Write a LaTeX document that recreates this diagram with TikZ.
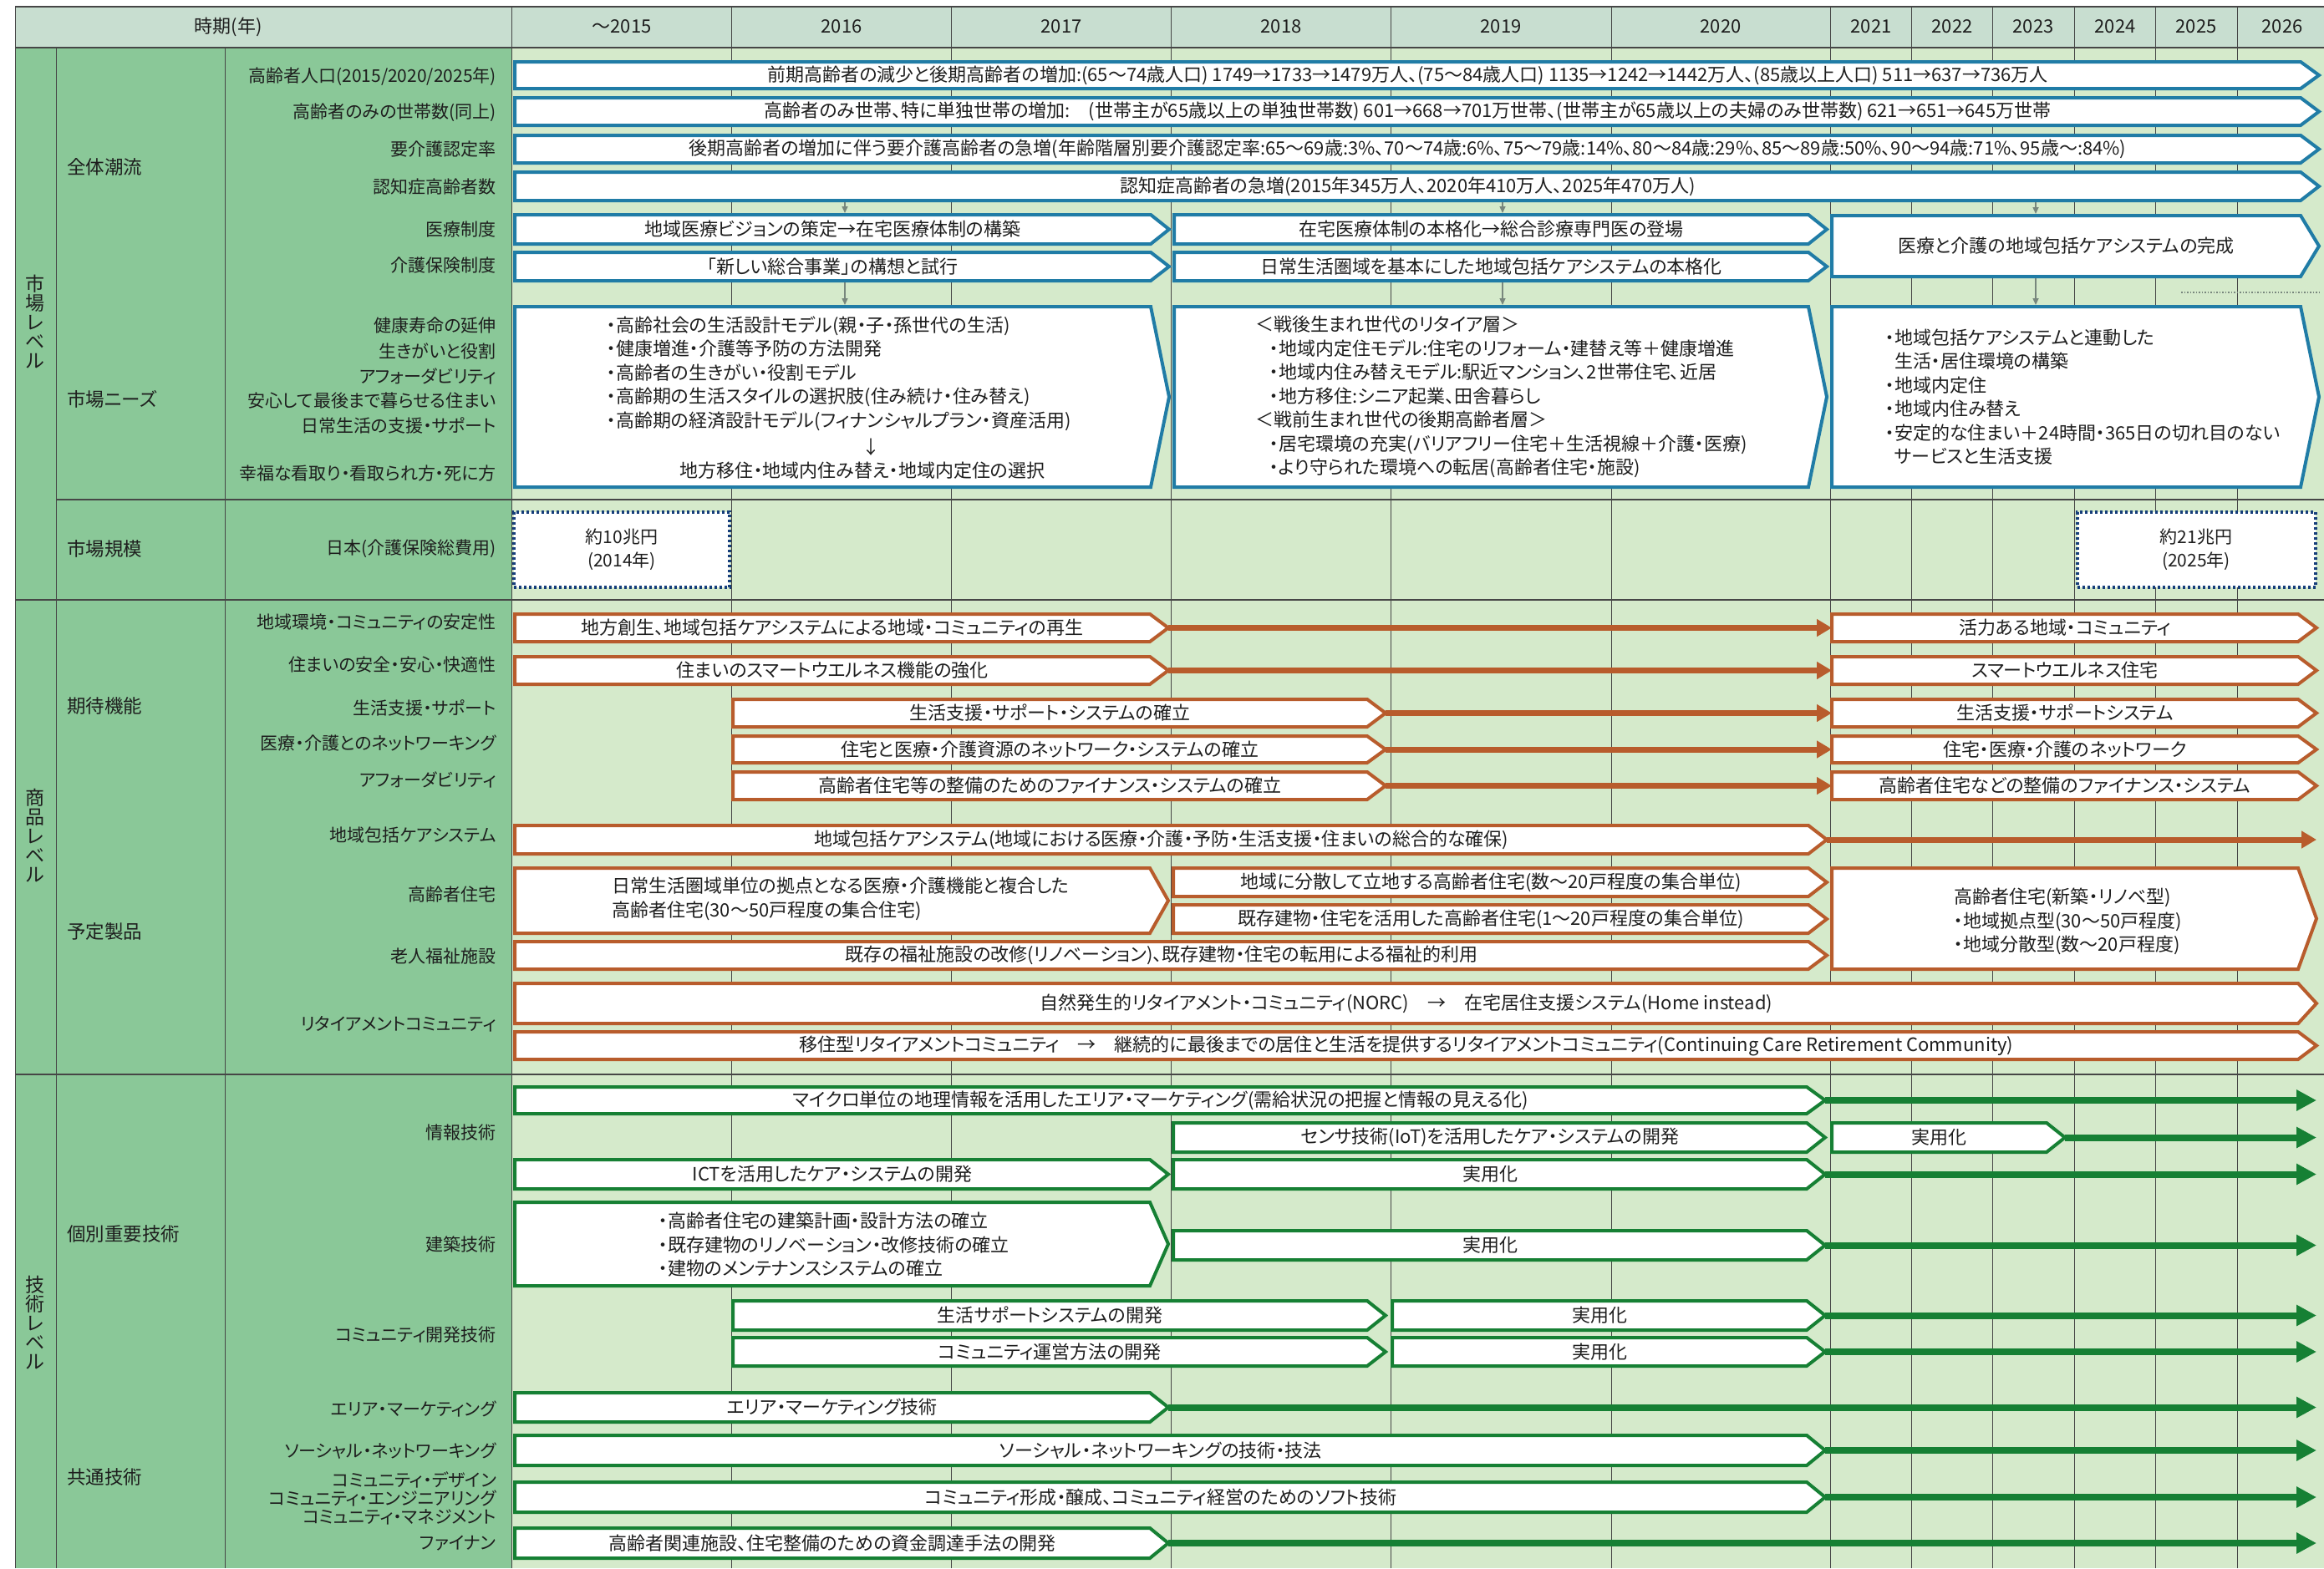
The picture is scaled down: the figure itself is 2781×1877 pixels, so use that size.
\documentclass[tikz,border=0pt]{standalone}
\usepackage{fontspec}
\setmainfont[RawFeature=+palt]{Noto Sans CJK JP}
\usetikzlibrary{arrows.meta}

\definecolor{leftg}{RGB}{138,200,152}
\definecolor{tlbg}{RGB}{213,234,203}
\definecolor{hdrbg}{RGB}{200,222,208}
\definecolor{mktc}{RGB}{32,124,166}
\definecolor{sizec}{RGB}{22,62,122}
\definecolor{prodc}{RGB}{184,92,44}
\definecolor{techc}{RGB}{22,128,52}
\definecolor{gridc}{RGB}{70,70,70}
\definecolor{txt}{RGB}{30,30,30}
\definecolor{darr}{RGB}{120,135,125}

\newdimen\tipd
\tipd=22pt

\tikzset{
  chevnode/.style={inner sep=0pt, outer sep=0pt, draw=none},
  chevline/.style={line width=4pt, fill=white, line join=miter},
  bartext/.style={font=\fontsize{22}{26}\selectfont, text=txt, inner sep=0pt},
  lbl/.style={font=\fontsize{21}{22}\selectfont, text=txt, anchor=east, inner sep=0pt, align=right},
  catlbl/.style={font=\fontsize{22.5}{26}\selectfont, text=txt, anchor=west, inner sep=0pt},
  lvllbl/.style={font=\fontsize{23}{23}\selectfont, text=txt, align=center, inner sep=0pt},
  yrlbl/.style={font=\fontsize{22}{24}\selectfont, text=txt, inner sep=0pt},
  blk/.style={font=\fontsize{22}{28.5}\selectfont, text=txt, align=left, inner sep=0pt, anchor=west},
  sizebox/.style={draw=sizec, line width=4pt, dash pattern=on 3pt off 3pt, fill=white, inner sep=0pt,
    align=center, font=\fontsize{21}{28}\selectfont, text=txt},
  brownarr/.style={draw=prodc, line width=7pt, -{Triangle[length=18pt,width=20pt]}},
  greenarr/.style={draw=techc, line width=8pt, -{Triangle[length=24pt,width=24pt]}},
  downarr/.style={draw=darr, line width=1.5pt, -{Triangle[length=8pt,width=7pt]}, shorten <=2pt, shorten >=2pt},
  gridv/.style={draw=gridc, line width=1pt},
  sepline/.style={draw=gridc, line width=2.5pt},
}

\newcommand{\chev}[7]{%
  \node[chevnode, minimum width={#5-#3}, minimum height={#6-#4}] (#2) at ({(#3+#5)/2},{(#4+#6)/2}) {};
  \draw[chevline, draw=#1] (#2.north west) -- ([xshift=-\tipd]#2.north east) -- (#2.east) -- ([xshift=-\tipd]#2.south east) -- (#2.south west) -- cycle;
  \node[bartext] (#2-t) at ([xshift=-0.5*\tipd]#2.center) {#7};
}

\begin{document}
\begin{tikzpicture}[x=1pt,y=-1pt]
\useasboundingbox (0,0) rectangle (2781,1877);
\fill[white] (0,0) rectangle (2781,1877);
% backgrounds
\fill[hdrbg] (18,8) rectangle (2781,57);
\fill[leftg] (18,57) rectangle (612,1877);
\fill[tlbg] (612,57) rectangle (2781,1877);
% grid
\foreach \xx in {875,1138,1401,1664,1928,2190,2287,2384,2482,2579,2677}
  \draw[gridv] (\xx,8) -- (\xx,1877);
\draw[gridv] (612,8) -- (612,1877);
\draw[gridv] (18,8) -- (18,1877);
\draw[gridv] (67,57) -- (67,1877);
\draw[gridv] (269,57) -- (269,1877);
\draw[sepline] (18,8) -- (2781,8);
\draw[sepline] (18,57) -- (2781,57);
\draw[sepline] (67,598) -- (2781,598);
\draw[sepline] (18,718) -- (2781,718);
\draw[sepline] (18,1286) -- (2781,1286);

% header
\node[yrlbl] (hd) at (273,32) {時期(年)};
\node[yrlbl] (y15) at (744,32) {～2015};
\node[yrlbl] (y16) at (1007,32) {2016};
\node[yrlbl] (y17) at (1270,32) {2017};
\node[yrlbl] (y18) at (1533,32) {2018};
\node[yrlbl] (y19) at (1796,32) {2019};
\node[yrlbl] (y20) at (2059,32) {2020};
\node[yrlbl] (y21) at (2239,32) {2021};
\node[yrlbl] (y22) at (2336,32) {2022};
\node[yrlbl] (y23) at (2433,32) {2023};
\node[yrlbl] (y24) at (2531,32) {2024};
\node[yrlbl] (y25) at (2628,32) {2025};
\node[yrlbl] (y26) at (2731,32) {2026};

% level labels
\node[lvllbl] (lv1) at (42,385) {市\\場\\レ\\ベ\\ル};
\node[lvllbl] (lv2) at (42,1000) {商\\品\\レ\\ベ\\ル};
\node[lvllbl] (lv3) at (42,1583) {技\\術\\レ\\ベ\\ル};

% category labels
\node[catlbl] (c1) at (80,200) {全体潮流};
\node[catlbl] (c2) at (80,478) {市場ニーズ};
\node[catlbl] (c3) at (80,657) {市場規模};
\node[catlbl] (c4) at (80,845) {期待機能};
\node[catlbl] (c5) at (80,1115) {予定製品};
\node[catlbl] (c6) at (80,1477) {個別重要技術};
\node[catlbl] (c7) at (80,1768) {共通技術};

% item labels
\node[lbl] (l1) at (594,92) {高齢者人口(2015/2020/2025年)};
\node[lbl] (l2) at (594,135) {高齢者のみの世帯数(同上)};
\node[lbl] (l3) at (594,179) {要介護認定率};
\node[lbl] (l4) at (594,224) {認知症高齢者数};
\node[lbl] (l5) at (594,275) {医療制度};
\node[lbl] (l6) at (594,318) {介護保険制度};
\node[lbl] (l7) at (594,390) {健康寿命の延伸};
\node[lbl] (l8) at (594,420) {生きがいと役割};
\node[lbl] (l9) at (594,450) {アフォーダビリティ};
\node[lbl] (l10) at (594,480) {安心して最後まで暮らせる住まい};
\node[lbl] (l11) at (594,509) {日常生活の支援・サポート};
\node[lbl] (l12) at (594,567) {幸福な看取り・看取られ方・死に方};
\node[lbl] (l13) at (594,657) {日本(介護保険総費用)};
\node[lbl] (l14) at (594,745) {地域環境・コミュニティの安定性};
\node[lbl] (l15) at (594,796) {住まいの安全・安心・快適性};
\node[lbl] (l16) at (594,847) {生活支援・サポート};
\node[lbl] (l17) at (594,890) {医療・介護とのネットワーキング};
\node[lbl] (l18) at (594,933) {アフォーダビリティ};
\node[lbl] (l19) at (594,999) {地域包括ケアシステム};
\node[lbl] (l20) at (594,1070) {高齢者住宅};
\node[lbl] (l21) at (594,1145) {老人福祉施設};
\node[lbl] (l22) at (594,1226) {リタイアメントコミュニティ};
\node[lbl] (l23) at (594,1356) {情報技術};
\node[lbl] (l24) at (594,1489) {建築技術};
\node[lbl] (l25) at (594,1598) {コミュニティ開発技術};
\node[lbl] (l26) at (594,1686) {エリア・マーケティング};
\node[lbl] (l27) at (594,1737) {ソーシャル・ネットワーキング};
\node[lbl] (l28) at (594,1793) {コミュニティ・デザイン\\コミュニティ・エンジニアリング\\コミュニティ・マネジメント};
\node[lbl] (l29) at (594,1847) {ファイナン};

\coordinate (edge) at (2772,0);
\coordinate (dx1) at (1011,0);
\coordinate (dx2) at (1798,0);
\coordinate (dx3) at (2436,0);

% ---------- market level ----------
\chev{mktc}{m1}{616}{74}{2775}{106}{前期高齢者の減少と後期高齢者の増加:(65～74歳人口) 1749→1733→1479万人、(75～84歳人口) 1135→1242→1442万人、(85歳以上人口) 511→637→736万人}
\chev{mktc}{m2}{616}{117}{2775}{150}{高齢者のみ世帯、特に単独世帯の増加:\quad(世帯主が65歳以上の単独世帯数) 601→668→701万世帯、(世帯主が65歳以上の夫婦のみ世帯数) 621→651→645万世帯}
\chev{mktc}{m3}{616}{162}{2775}{195}{後期高齢者の増加に伴う要介護高齢者の急増(年齢階層別要介護認定率:65～69歳:3\%、70～74歳:6\%、75～79歳:14\%、80～84歳:29\%、85～89歳:50\%、90～94歳:71\%、95歳～:84\%)}
\chev{mktc}{m4}{616}{206}{2775}{240}{認知症高齢者の急増(2015年345万人、2020年410万人、2025年470万人)}
\chev{mktc}{m5a}{616}{257}{1399}{292}{地域医療ビジョンの策定→在宅医療体制の構築}
\chev{mktc}{m5b}{1405}{257}{2186}{292}{在宅医療体制の本格化→総合診療専門医の登場}
\chev{mktc}{m56c}{2192}{258}{2775}{331}{医療と介護の地域包括ケアシステムの完成}
\chev{mktc}{m6a}{616}{302}{1399}{336}{「新しい総合事業」の構想と試行}
\chev{mktc}{m6b}{1405}{302}{2186}{336}{日常生活圏域を基本にした地域包括ケアシステムの本格化}
\chev{mktc}{n1}{616}{367}{1399}{583}{}
\chev{mktc}{n2}{1405}{367}{2186}{583}{}
\chev{mktc}{n3}{2192}{367}{2775}{583}{}

\node[blk] (n1b) at (726,447) {・高齢社会の生活設計モデル(親・子・孫世代の生活)\\・健康増進・介護等予防の方法開発\\・高齢者の生きがい・役割モデル\\・高齢期の生活スタイルの選択肢(住み続け・住み替え)\\・高齢期の経済設計モデル(フィナンシャルプラン・資産活用)};
\node[bartext] (n1a) at (1042,535) {↓};
\node[bartext] (n1c) at (1032,563) {地方移住・地域内住み替え・地域内定住の選択};
\node[blk] (n2b) at (1502,475) {＜戦後生まれ世代のリタイア層＞\\\hspace*{17pt}・地域内定住モデル:住宅のリフォーム・建替え等＋健康増進\\\hspace*{17pt}・地域内住み替えモデル:駅近マンション、2世帯住宅、近居\\\hspace*{17pt}・地方移住:シニア起業、田舎暮らし\\＜戦前生まれ世代の後期高齢者層＞\\\hspace*{17pt}・居宅環境の充実(バリアフリー住宅＋生活視線＋介護・医療)\\\hspace*{17pt}・より守られた環境への転居(高齢者住宅・施設)};
\node[blk] (n3b) at (2256,475) {・地域包括ケアシステムと連動した\\\phantom{・}生活・居住環境の構築\\・地域内定住\\・地域内住み替え\\・安定的な住まい＋24時間・365日の切れ目のない\\\phantom{・}サービスと生活支援};

\draw[downarr] (m4.south -| dx1) -- (m5a.north -| dx1);
\draw[downarr] (m4.south -| dx2) -- (m5b.north -| dx2);
\draw[downarr] (m4.south -| dx3) -- (m56c.north -| dx3);
\draw[downarr] (m6a.south -| dx1) -- (n1.north -| dx1);
\draw[downarr] (m6b.south -| dx2) -- (n2.north -| dx2);
\draw[downarr] (m56c.south -| dx3) -- (n3.north -| dx3);
\coordinate (dl1) at (2610,350);
\coordinate (dl2) at (2775,350);
\draw[draw=darr, line width=1.5pt, dotted] (dl1) -- (dl2);

% market size
\node[sizebox, minimum width=258pt, minimum height=90pt] (s1) at (744,658) {約10兆円\\(2014年)};
\node[sizebox, minimum width=285pt, minimum height=90pt] (s2) at (2628,658) {約21兆円\\(2025年)};

% ---------- product level ----------
\chev{prodc}{p1}{616}{735}{1398}{768}{地方創生、地域包括ケアシステムによる地域・コミュニティの再生}
\chev{prodc}{p1r}{2192}{735}{2772}{768}{活力ある地域・コミュニティ}
\chev{prodc}{p2}{616}{786}{1398}{819}{住まいのスマートウエルネス機能の強化}
\chev{prodc}{p2r}{2192}{786}{2772}{819}{スマートウエルネス住宅}
\chev{prodc}{p3}{877}{837}{1658}{870}{生活支援・サポート・システムの確立}
\chev{prodc}{p3r}{2192}{837}{2772}{870}{生活支援・サポートシステム}
\chev{prodc}{p4}{877}{881}{1658}{913}{住宅と医療・介護資源のネットワーク・システムの確立}
\chev{prodc}{p4r}{2192}{881}{2772}{913}{住宅・医療・介護のネットワーク}
\chev{prodc}{p5}{877}{924}{1658}{957}{高齢者住宅等の整備のためのファイナンス・システムの確立}
\chev{prodc}{p5r}{2192}{924}{2772}{957}{高齢者住宅などの整備のファイナンス・システム}
\chev{prodc}{p6}{616}{988}{2186}{1022}{地域包括ケアシステム(地域における医療・介護・予防・生活支援・住まいの総合的な確保)}
\chev{prodc}{p7a}{616}{1039}{1398}{1117}{}
\chev{prodc}{p7b}{1404}{1039}{2186}{1073}{地域に分散して立地する高齢者住宅(数～20戸程度の集合単位)}
\chev{prodc}{p7c}{1404}{1083}{2186}{1117}{既存建物・住宅を活用した高齢者住宅(1～20戸程度の集合単位)}
\chev{prodc}{p7d}{2192}{1039}{2772}{1160}{}
\chev{prodc}{p8}{616}{1127}{2186}{1160}{既存の福祉施設の改修(リノベーション)、既存建物・住宅の転用による福祉的利用}
\chev{prodc}{p9}{616}{1177}{2772}{1225}{自然発生的リタイアメント・コミュニティ(NORC)\quad→\quad 在宅居住支援システム(Home instead)}
\chev{prodc}{p10}{616}{1235}{2772}{1268}{移住型リタイアメントコミュニティ\quad→\quad 継続的に最後までの居住と生活を提供するリタイアメントコミュニティ(Continuing Care Retirement Community)}

\node[blk] (p7at) at (732,1076) {日常生活圏域単位の拠点となる医療・介護機能と複合した\\高齢者住宅(30～50戸程度の集合住宅)};
\node[blk] (p7dt) at (2338,1103) {高齢者住宅(新築・リノベ型)\\・地域拠点型(30～50戸程度)\\・地域分散型(数～20戸程度)};

\draw[brownarr] (p1.east) -- (p1r.west);
\draw[brownarr] (p2.east) -- (p2r.west);
\draw[brownarr] (p3.east) -- (p3r.west);
\draw[brownarr] (p4.east) -- (p4r.west);
\draw[brownarr] (p5.east) -- (p5r.west);
\draw[brownarr] (p6.east) -- (p6.east -| edge);

% ---------- technology level ----------
\chev{techc}{t1}{616}{1301}{2184}{1333}{マイクロ単位の地理情報を活用したエリア・マーケティング(需給状況の把握と情報の見える化)}
\chev{techc}{t2a}{1404}{1344}{2184}{1379}{センサ技術(IoT)を活用したケア・システムの開発}
\chev{techc}{t2b}{2192}{1344}{2471}{1379}{実用化}
\chev{techc}{t3a}{616}{1388}{1398}{1423}{ICTを活用したケア・システムの開発}
\chev{techc}{t3b}{1404}{1388}{2184}{1423}{実用化}
\chev{techc}{t4a}{616}{1439}{1398}{1539}{}
\chev{techc}{t4b}{1404}{1473}{2184}{1508}{実用化}
\chev{techc}{t5a}{877}{1557}{1658}{1592}{生活サポートシステムの開発}
\chev{techc}{t5b}{1666}{1557}{2184}{1592}{実用化}
\chev{techc}{t6a}{877}{1601}{1658}{1635}{コミュニティ運営方法の開発}
\chev{techc}{t6b}{1666}{1601}{2184}{1635}{実用化}
\chev{techc}{t7}{616}{1667}{1398}{1702}{エリア・マーケティング技術}
\chev{techc}{t8}{616}{1718}{2184}{1754}{ソーシャル・ネットワーキングの技術・技法}
\chev{techc}{t9}{616}{1774}{2184}{1810}{コミュニティ形成・醸成、コミュニティ経営のためのソフト技術}
\chev{techc}{t10}{616}{1829}{1398}{1865}{高齢者関連施設、住宅整備のための資金調達手法の開発}

\node[blk] (t4t) at (788,1490) {・高齢者住宅の建築計画・設計方法の確立\\・既存建物のリノベーション・改修技術の確立\\・建物のメンテナンスシステムの確立};

\draw[greenarr] (t1.east) -- (t1.east -| edge);
\draw[greenarr] (t2b.east) -- (t2b.east -| edge);
\draw[greenarr] (t3b.east) -- (t3b.east -| edge);
\draw[greenarr] (t4b.east) -- (t4b.east -| edge);
\draw[greenarr] (t5b.east) -- (t5b.east -| edge);
\draw[greenarr] (t6b.east) -- (t6b.east -| edge);
\draw[greenarr] (t7.east) -- (t7.east -| edge);
\draw[greenarr] (t8.east) -- (t8.east -| edge);
\draw[greenarr] (t9.east) -- (t9.east -| edge);
\draw[greenarr] (t10.east) -- (t10.east -| edge);
\end{tikzpicture}
\end{document}
